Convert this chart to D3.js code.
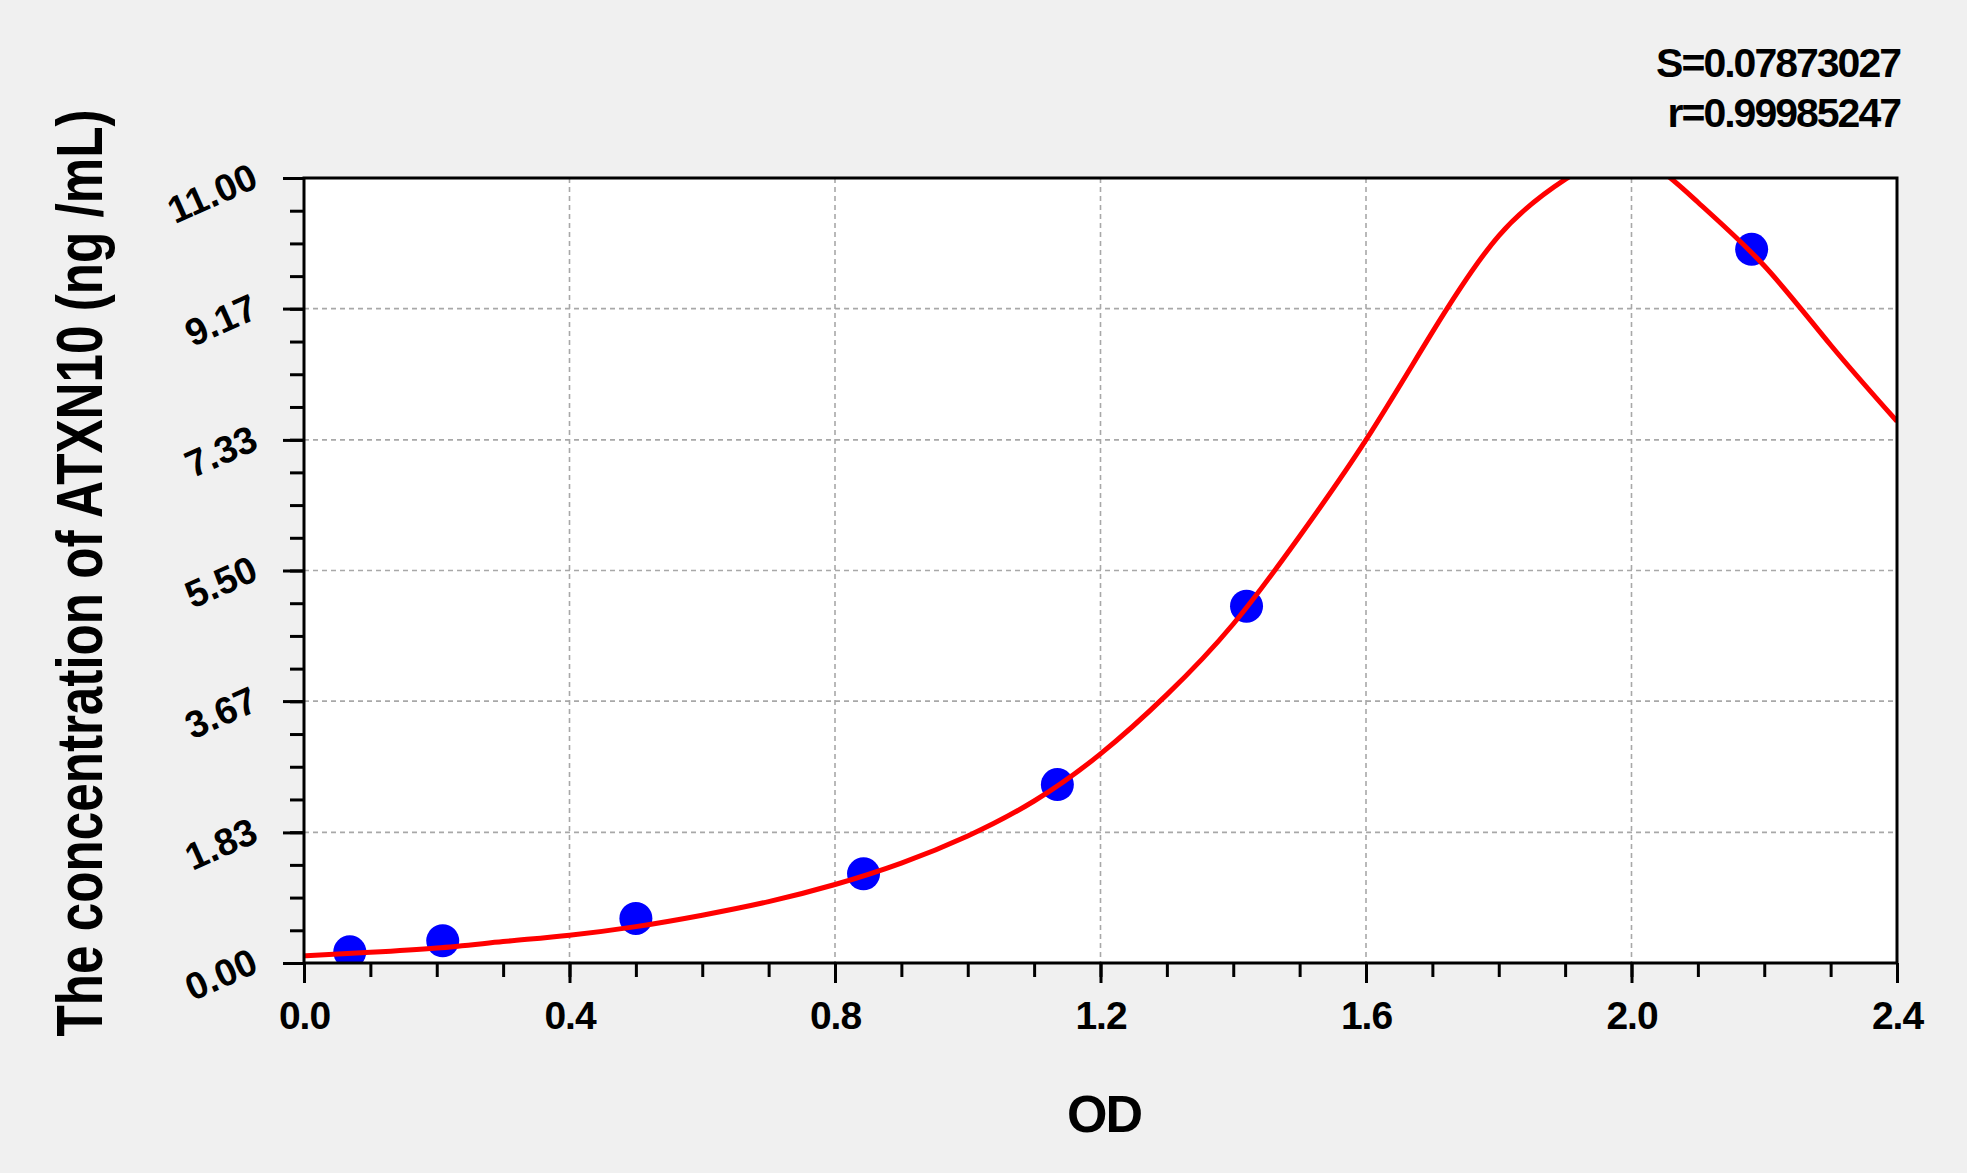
<!DOCTYPE html>
<html>
<head>
<meta charset="utf-8">
<script src="https://cdn.jsdelivr.net/npm/d3@7"></script>
<style>
  html, body { margin: 0; padding: 0; background: #f0f0f0; }
  svg { display: block; font-family: "Liberation Sans", Arial, sans-serif; font-weight: bold; }
</style>
</head>
<body>
<svg id="chart" width="1967" height="1173"></svg>
<script>
// standards (OD vs concentration)
const odValues = [0.069, 0.209, 0.500, 0.843, 1.135, 1.420, 2.181];
const concValues = [0.156, 0.312, 0.625, 1.25, 2.5, 5, 10];

// fitted curve (goes above the top between ~1.9 and ~2.05)
const curveOD = [0, 0.1, 0.2, 0.3, 0.4, 0.5, 0.6, 0.7, 0.8, 0.9, 1.0, 1.1, 1.2, 1.3,
  1.4, 1.5, 1.6, 1.7, 1.8, 1.9, 2.0, 2.1, 2.2, 2.3, 2.4];
const curveConc = [0.10, 0.15, 0.21, 0.30, 0.39, 0.51, 0.67, 0.86, 1.10, 1.40, 1.78, 2.27,
  2.93, 3.76, 4.75, 5.98, 7.33, 8.84, 10.19, 10.98, 11.30, 10.66, 9.77, 8.66, 7.59];

const xTicks = [0, 0.4, 0.8, 1.2, 1.6, 2.0, 2.4];
const yTicks = [0, 1.83, 3.67, 5.5, 7.33, 9.17, 11];
const yTickLabels = ["0.00", "1.83", "3.67", "5.50", "7.33", "9.17", "11.00"];
const statLines = ["S=0.07873027", "r=0.99985247"];

const svg = d3.select("#chart");
const plot = { left: 304, right: 1897, top: 178, bottom: 963 };

const x = d3.scaleLinear().domain([0, 2.4]).range([plot.left, plot.right]);
const y = d3.scaleLinear().domain([0, 11]).range([plot.bottom, plot.top]);

svg.append("rect")
  .attr("width", 1967).attr("height", 1173)
  .attr("fill", "#f0f0f0");

svg.append("rect")
  .attr("x", plot.left).attr("y", plot.top)
  .attr("width", plot.right - plot.left).attr("height", plot.bottom - plot.top)
  .attr("fill", "#ffffff");

// grid
const grid = svg.append("g").attr("class", "grid");
grid.selectAll(".vgrid")
  .data(xTicks.slice(1, -1))
  .enter().append("line")
  .attr("x1", d => x(d)).attr("x2", d => x(d))
  .attr("y1", plot.top).attr("y2", plot.bottom);
grid.selectAll(".hgrid")
  .data(yTicks.slice(1, -1))
  .enter().append("line")
  .attr("x1", plot.left).attr("x2", plot.right)
  .attr("y1", d => y(d)).attr("y2", d => y(d));
grid.selectAll("line")
  .attr("stroke", "#a8a8a8")
  .attr("stroke-width", 1.6)
  .attr("stroke-dasharray", "5,4");

// x axis
const xMinor = d3.range(0, 2.4001, 0.1);
svg.append("g")
  .attr("transform", `translate(0, ${plot.bottom})`)
  .call(d3.axisBottom(x).tickValues(xMinor).tickSize(14).tickFormat(""))
  .call(g => g.select(".domain").remove());

const xAxis = svg.append("g")
  .attr("transform", `translate(0, ${plot.bottom})`)
  .call(d3.axisBottom(x).tickValues(xTicks).tickSize(20).tickPadding(18).tickFormat(d3.format(".1f")))
  .call(g => g.select(".domain").remove());

xAxis.selectAll("text")
  .attr("fill", "#000")
  .style("font-size", "39px")
  .style("letter-spacing", "-1px")
  .attr("dy", "0.71em");

// y axis
const yMinor = d3.range(0, 11.001, 11 / 24);
svg.append("g")
  .attr("transform", `translate(${plot.left}, 0)`)
  .call(d3.axisLeft(y).tickValues(yMinor).tickSize(14).tickFormat(""))
  .call(g => g.select(".domain").remove());

const yAxis = svg.append("g")
  .attr("transform", `translate(${plot.left}, 0)`)
  .call(d3.axisLeft(y).tickValues(yTicks).tickSize(21).tickFormat((d, i) => yTickLabels[i]))
  .call(g => g.select(".domain").remove());

yAxis.selectAll("text")
  .attr("x", 0)
  .attr("dy", 0)
  .attr("fill", "#000")
  .style("font-size", "38px")
  .style("text-anchor", "end")
  .attr("transform", "translate(-44, 8) rotate(-24)");

svg.selectAll(".tick line")
  .attr("stroke", "#000")
  .attr("stroke-width", 3);

// curve + points, clipped to plot area
svg.append("clipPath").attr("id", "plotClip")
  .append("rect")
  .attr("x", plot.left).attr("y", plot.top)
  .attr("width", plot.right - plot.left).attr("height", plot.bottom - plot.top);

const layer = svg.append("g").attr("clip-path", "url(#plotClip)");

layer.selectAll(".pt")
  .data(odValues)
  .enter().append("circle")
  .attr("class", "pt")
  .attr("cx", d => x(d))
  .attr("cy", (d, i) => y(concValues[i]))
  .attr("r", 16.5)
  .attr("fill", "#0000ff");

const line = d3.line()
  .x(d => x(d))
  .y((d, i) => y(curveConc[i]))
  .curve(d3.curveNatural);

layer.append("path")
  .datum(curveOD)
  .attr("d", line)
  .attr("fill", "none")
  .attr("stroke", "#ff0000")
  .attr("stroke-width", 5)
  .attr("stroke-linejoin", "round");

// plot border
svg.append("rect")
  .attr("x", plot.left).attr("y", plot.top)
  .attr("width", plot.right - plot.left).attr("height", plot.bottom - plot.top)
  .attr("fill", "none")
  .attr("stroke", "#000")
  .attr("stroke-width", 3);

// titles
svg.append("text")
  .attr("x", 1104).attr("y", 1132)
  .attr("text-anchor", "middle")
  .style("font-size", "52px")
  .style("letter-spacing", "-2px")
  .text("OD");

svg.append("text")
  .attr("transform", "translate(102, 573) rotate(-90) scale(0.8, 1)")
  .attr("text-anchor", "middle")
  .style("font-size", "64px")
  .text("The concentration of ATXN10 (ng /mL)");

svg.selectAll(".stat")
  .data(statLines)
  .enter().append("text")
  .attr("class", "stat")
  .attr("x", 1900)
  .attr("y", (d, i) => 77 + i * 50)
  .attr("text-anchor", "end")
  .style("font-size", "41px")
  .style("letter-spacing", "-2px")
  .text(d => d);
</script>
</body>
</html>
